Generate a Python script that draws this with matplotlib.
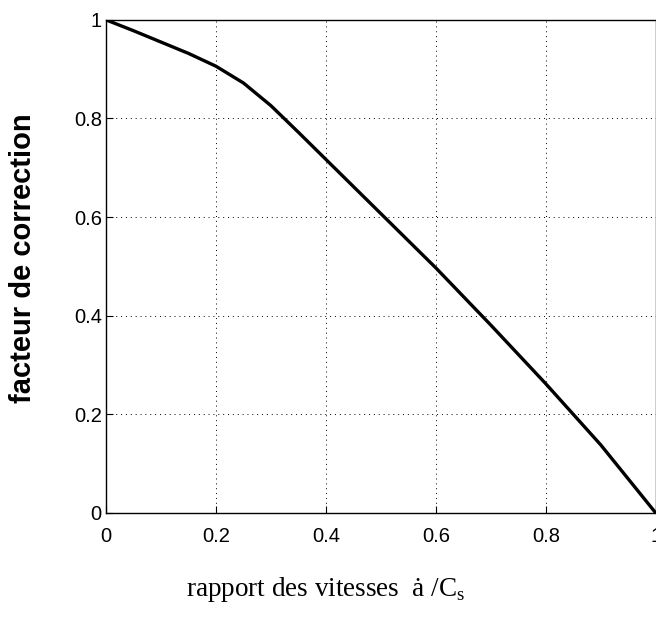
# Facteur de correction vs rapport des vitesses
import numpy as np
import matplotlib.pyplot as plt

# Data
rapport = [0.0, 0.05, 0.1, 0.15, 0.2, 0.25, 0.3, 0.35, 0.4, 0.5, 0.6, 0.7, 0.8, 0.9, 1.0]
facteur = [1.0, 0.978, 0.955, 0.932, 0.906, 0.872, 0.826, 0.772, 0.717, 0.607, 0.497, 0.381, 0.262, 0.138, 0.0]

x_ticks = [0, 0.2, 0.4, 0.6, 0.8, 1]
x_tick_labels = ['0', '0.2', '0.4', '0.6', '0.8', '1']
y_ticks = [0, 0.2, 0.4, 0.6, 0.8, 1]
y_tick_labels = ['0', '0.2', '0.4', '0.6', '0.8', '1']

fig = plt.figure(figsize=(6.56, 6.21), dpi=100)
ax = fig.add_axes([0.1616, 0.174, 0.838, 0.794])

ax.plot(rapport, facteur, color='black', linewidth=2.4, solid_capstyle='round')

ax.set_xlim(0, 1)
ax.set_ylim(0, 1)
ax.set_xticks(x_ticks)
ax.set_xticklabels(x_tick_labels, family='Liberation Sans', fontsize=14.5)
ax.set_yticks(y_ticks)
ax.set_yticklabels(y_tick_labels, family='Liberation Sans', fontsize=14.5)
ax.tick_params(direction='in', length=5, width=0.8)
ax.tick_params(axis='x', pad=10)
ax.tick_params(axis='y', pad=3)
ax.grid(True, linestyle=(0, (1, 4)), color='black', linewidth=0.7)

for s in ax.spines.values():
    s.set_linewidth(1.0)

# y label, bold sans
fig.text(0.035, 0.585, 'facteur de correction', family='Liberation Sans',
         fontweight='bold', fontsize=21, rotation=90, ha='center', va='center')
# x label, serif, shifted left like the original
fig.text(0.497, 0.05, 'rapport des vitesses  ȧ /C$_\\mathregular{s}$',
         family='Liberation Serif', fontsize=19.5, ha='center', va='center')

fig.savefig('out.png', dpi=100)
